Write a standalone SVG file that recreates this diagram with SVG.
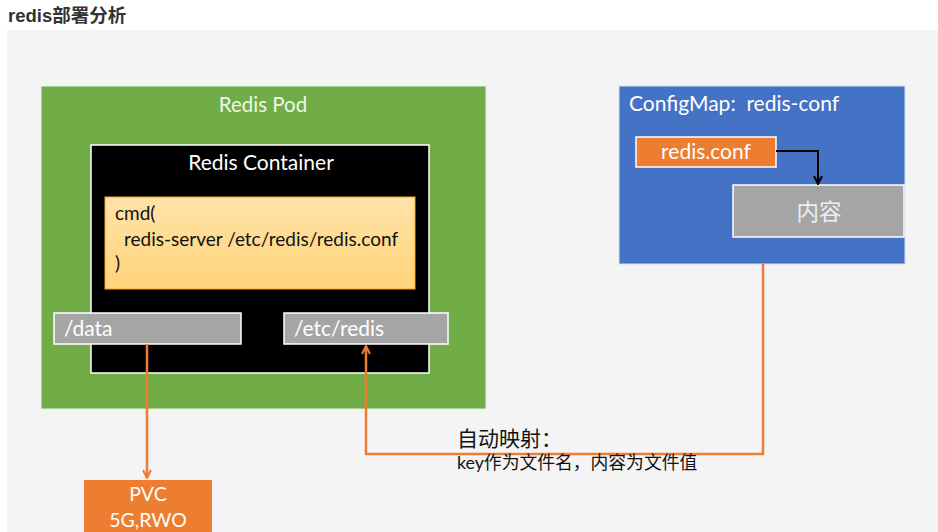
<svg xmlns="http://www.w3.org/2000/svg" width="938" height="532" viewBox="0 0 938 532">
<defs>
<style>
.t{font-family:Lato,"Open Sans","Noto Sans CJK SC",sans-serif;}
.w{fill:#ffffff;}
.c{stroke:#ed7d31;stroke-width:2.5;fill:none;}
</style>
<linearGradient id="yg" x1="0" y1="0" x2="0" y2="1">
<stop offset="0" stop-color="#ffe3a8"/>
<stop offset="1" stop-color="#ffd47a"/>
</linearGradient>
<marker id="ao" viewBox="0 0 10 10" refX="9" refY="5" markerWidth="4" markerHeight="4" orient="auto" markerUnits="strokeWidth">
<polyline points="1,1 9,5 1,9" fill="none" stroke="#ed7d31" stroke-width="2"/>
</marker>
<marker id="ab" viewBox="0 0 10 10" refX="9" refY="5" markerWidth="5" markerHeight="5" orient="auto" markerUnits="strokeWidth">
<polyline points="1,1 9,5 1,9" fill="none" stroke="#000" stroke-width="2"/>
</marker>
</defs>
<rect x="0" y="0" width="938" height="532" fill="#ffffff"/>
<rect x="7" y="30" width="931" height="502" fill="#f4f4f4"/>
<text x="8" y="22" font-family="'Liberation Sans','Noto Sans CJK SC',sans-serif" font-size="18.5" font-weight="bold" fill="#333">redis部署分析</text>

<g id="pod">
<rect x="41" y="86" width="445" height="323" fill="#70ad47" stroke="#e8f0e0" stroke-width="1"/>
<text class="t" x="263" y="112" font-size="20.5" text-anchor="middle" fill="#eef7e8">Redis Pod</text>
</g>
<g id="container">
<rect x="91" y="145" width="338" height="228" fill="#000" stroke="#fff" stroke-width="1.5"/>
<text class="t w" x="261" y="170" font-size="21" text-anchor="middle">Redis Container</text>
</g>
<g id="cmd">
<rect x="105" y="197" width="310" height="92" fill="url(#yg)" stroke="#f5a623" stroke-width="1"/>
<text class="t" x="115" y="220" font-size="19" fill="#111">cmd(</text>
<text class="t" x="124" y="246" font-size="19" fill="#111">redis-server /etc/redis/redis.conf</text>
<text class="t" x="115" y="270" font-size="19" fill="#111">)</text>
</g>
<g id="data">
<rect x="54" y="313" width="187" height="31" fill="#a5a5a5" stroke="#fff" stroke-width="1.5"/>
<text class="t w" x="64" y="336" font-size="21">/data</text>
</g>
<g id="etcredis">
<rect x="284" y="313" width="164" height="31" fill="#a5a5a5" stroke="#fff" stroke-width="1.5"/>
<text class="t w" x="294" y="336" font-size="21">/etc/redis</text>
</g>
<g id="pvc">
<rect x="84" y="480" width="128" height="60" fill="#ed7d31"/>
<text class="t w" x="148" y="501" font-size="19.5" text-anchor="middle">PVC</text>
<text class="t w" x="148" y="527" font-size="19.5" text-anchor="middle">5G,RWO</text>
</g>
<g id="configmap">
<rect x="619" y="86" width="286" height="178" fill="#4472c4" stroke="#d8e0ee" stroke-width="1"/>
<text class="t w" x="629" y="111" font-size="21" xml:space="preserve">ConfigMap:  redis-conf</text>
</g>
<g id="redisconf">
<rect x="636" y="137" width="140" height="30" fill="#ed7d31" stroke="#fff" stroke-width="1.5"/>
<text class="t w" x="706" y="159" font-size="21" text-anchor="middle">redis.conf</text>
</g>
<g id="content">
<rect x="733" y="185" width="171" height="52" fill="#a5a5a5" stroke="#fff" stroke-width="1.5"/>
<text x="819" y="220" font-family="'Noto Sans CJK SC',sans-serif" font-size="22.5" text-anchor="middle" fill="#eeeeee">内容</text>
</g>
<g id="connectors">
<line class="c" x1="147" y1="344" x2="147" y2="478" marker-end="url(#ao)"/>
<polyline class="c" points="763,264 763,454 366,454 366,346" marker-end="url(#ao)"/>
<polyline points="776,151 818,151 818,184" fill="none" stroke="#000" stroke-width="2" marker-end="url(#ab)"/>
</g>
<g id="label">
<text x="457" y="446" font-family="'Noto Sans CJK SC',sans-serif" font-size="21" fill="#111">自动映射：</text>
<text x="457" y="469" font-family="Lato,'Noto Sans CJK SC',sans-serif" font-size="17.8" fill="#111">key作为文件名，内容为文件值</text>
</g>
</svg>
